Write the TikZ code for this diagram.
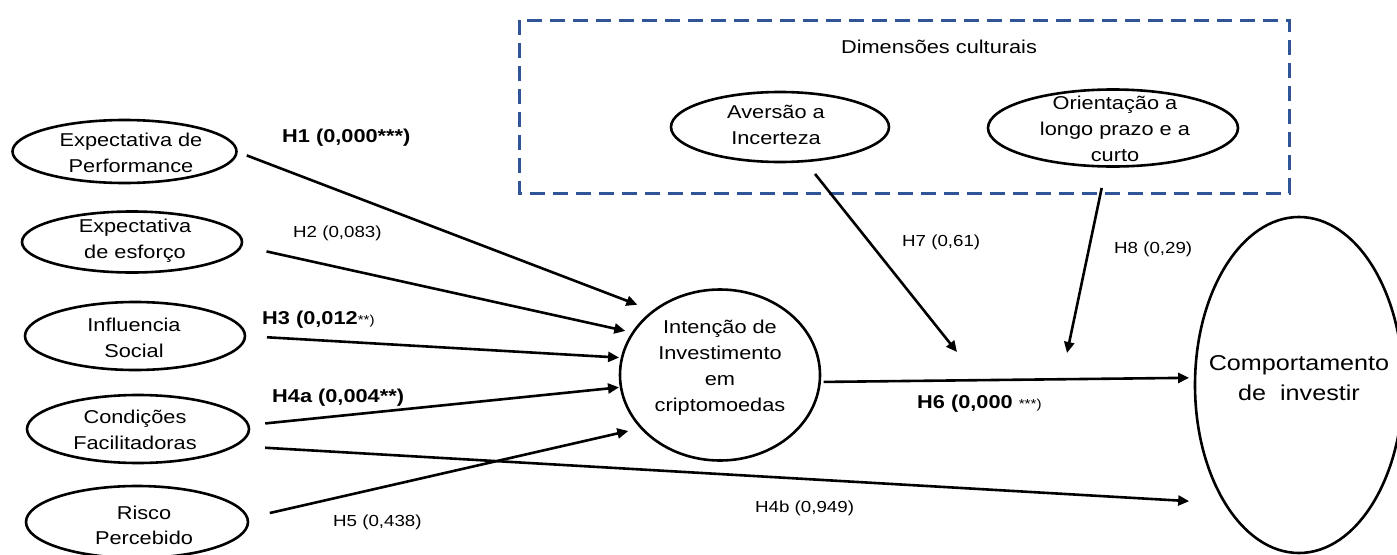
\documentclass[tikz,border=0pt]{standalone}
\usepackage{fontspec}
\setmainfont{Liberation Sans}[FakeStretch=1.17]
\usetikzlibrary{arrows.meta,shapes.geometric}
\definecolor{boxblue}{RGB}{47,85,151}
\begin{document}
\begin{tikzpicture}[x=1pt,y=-1pt,
  ell/.style={draw, ellipse, line width=2.6pt, inner sep=0pt, outer sep=0pt},
  txt/.style={align=center, font=\fontsize{18.6}{25.5}\selectfont, inner sep=0pt},
  lab/.style={anchor=base west, inner sep=0pt, font=\fontsize{16}{19}\selectfont},
  blab/.style={anchor=base west, inner sep=0pt, font=\fontsize{18.6}{22}\selectfont\bfseries},
  small/.style={},
  conn/.style={line width=2.6pt, -{Triangle[length=11pt,width=10pt]}},
]
\useasboundingbox (0,0) rectangle (1397,554);

% dashed frame
\draw[boxblue, line width=3pt, dash pattern=on 15pt off 8pt] (519,20) rectangle (1289,193);
\node[txt] (dim) at (939,47) {Dimensões culturais};

% ellipses
\node[ell, minimum width=224pt, minimum height=63pt] (e1) at (124.5,151.5) {};
\node[ell, minimum width=220pt, minimum height=61pt] (e2) at (132,242) {};
\node[ell, minimum width=220pt, minimum height=68pt] (e3) at (135,336) {};
\node[ell, minimum width=222pt, minimum height=68pt] (e4) at (138,429) {};
\node[ell, minimum width=222pt, minimum height=72pt] (e5) at (137,522) {};
\node[ell, minimum width=200pt, minimum height=171pt] (c) at (720,375) {};
\node[ell, minimum width=208pt, minimum height=336pt] (r) at (1299,385) {};
\node[ell, minimum width=218pt, minimum height=70pt] (a) at (780,127) {};
\node[ell, minimum width=250pt, minimum height=77pt] (o) at (1113,128) {};

% texts
\node[txt] (e1t) at (131,153) {Expectativa de\\Performance};
\node[txt] (e2t) at (135,240.5) {Expectativa\\de esforço};
\node[txt] (e3t) at (134,338) {Influencia\\Social};
\node[txt] (e4t) at (135,430) {Condições\\Facilitadoras};
\node[txt] (e5t) at (144,525.5) {Risco\\Percebido};
\node[txt, font=\fontsize{18.6}{26}\selectfont] (ct) at (720,368) {Intenção de\\Investimento\\em\\criptomoedas};
\node[txt, font=\fontsize{21.5}{30}\selectfont] (rt) at (1299,378) {Comportamento\\de\ \ investir};
\node[txt] (at) at (776,125) {Aversão a\\Incerteza};
\node[txt, font=\fontsize{18.6}{26}\selectfont] (ot) at (1115,129) {Orientação a\\longo prazo e a\\curto};

% labels
\node[blab] (l1) at (282,142) {H1 (0,000***)};
\node[lab] (l2) at (293,237) {H2 (0,083)};
\node[blab] (l3) at (262,324) {H3 (0,012{\mdseries\fontsize{13}{15}\selectfont **)}};
\node[blab] (l4a) at (272,402) {H4a (0,004**)};
\node[lab] (l5) at (333,526) {H5 (0,438)};
\node[lab] (l4b) at (755,512) {H4b (0,949)};
\node[blab] (l6) at (917,408) {H6 (0,000 {\mdseries\fontsize{13}{15}\selectfont ***)}};
\node[lab] (l7) at (902,246) {H7 (0,61)};
\node[lab] (l8) at (1114,253) {H8 (0,29)};

% moderation targets
\coordinate (m7) at (957,352);
\coordinate (m8) at (1067,353);

% connectors
\draw[conn, shorten <=11pt, shorten >=17.5pt] (e1.east) -- (c.136);
\draw[conn, shorten <=26pt, shorten >=8pt] (e2.-2) -- (c.154);
\draw[conn, shorten <=22pt, shorten >=3pt] (e3.east) -- (c.170);
\draw[conn, shorten <=17pt, shorten >=2pt] (e4.2) -- (c.187);
\draw[conn, shorten <=31pt, shorten >=36pt] (e4.-10) -- (r.238);
\draw[conn, shorten <=23pt, shorten >=13.5pt] (e5.2) -- (c.214);
\draw[conn, shorten <=4pt, shorten >=6pt] (c.-4) -- (r.176);
\draw[conn, shorten <=16.5pt] (a.-54) -- (m7);
\draw[conn, shorten <=22pt] (o.-100) -- (m8);
\end{tikzpicture}
\end{document}
